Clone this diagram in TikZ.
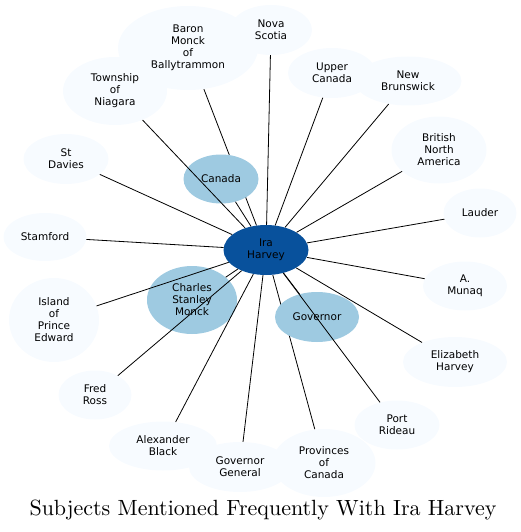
\documentclass[tikz,border=0pt]{standalone}
\usepackage{fontspec}
\newfontfamily\nodefont{DejaVu Sans}
\newfontfamily\titlefont{lmroman10-regular}[Extension=.otf]
\usetikzlibrary{shapes.geometric}
\definecolor{outerc}{HTML}{F7FBFF}
\definecolor{midc}{HTML}{9ECAE1}
\definecolor{centerc}{HTML}{08519C}
\pgfdeclarelayer{bg}
\pgfsetlayers{bg,main}
\tikzset{
  nd/.style={ellipse, inner sep=0pt, align=center, font=\nodefont\fontsize{10.5}{12}\selectfont, text=black},
  outer/.style={nd, fill=outerc},
  mid/.style={nd, fill=midc},
  ctr/.style={nd, fill=centerc},
  link/.style={draw=black, line width=0.8pt},
}
\begin{document}
\begin{tikzpicture}[x=1pt,y=-1pt]
\useasboundingbox (0,0) rectangle (521,532);
\node[outer, minimum width=140pt, minimum height=84pt] (baron) at (188,48) {Baron\\Monck\\of\\Ballytrammon};
\node[outer, minimum width=82pt, minimum height=50pt] (nova) at (271,30) {Nova\\Scotia};
\node[outer, minimum width=104pt, minimum height=68pt] (town) at (115,91) {Township\\of\\Niagara};
\node[outer, minimum width=88pt, minimum height=50pt] (upper) at (332,73) {Upper\\Canada};
\node[outer, minimum width=107pt, minimum height=49pt] (newb) at (408,81) {New\\Brunswick};
\node[outer, minimum width=95pt, minimum height=67pt] (bna) at (439,150) {British\\North\\America};
\node[outer, minimum width=73pt, minimum height=49pt] (lauder) at (480,213) {Lauder};
\node[outer, minimum width=85pt, minimum height=50pt] (stdav) at (66,159) {St\\Davies};
\node[outer, minimum width=83pt, minimum height=48pt] (stam) at (45,237) {Stamford};
\node[outer, minimum width=90pt, minimum height=84pt] (island) at (54,320) {Island\\of\\Prince\\Edward};
\node[outer, minimum width=73pt, minimum height=49pt] (fred) at (95,395) {Fred\\Ross};
\node[outer, minimum width=108pt, minimum height=49pt] (alex) at (163,446) {Alexander\\Black};
\node[outer, minimum width=103pt, minimum height=68pt] (prov) at (324,463) {Provinces\\of\\Canada};
\node[outer, minimum width=102pt, minimum height=50pt] (govgen) at (240,467) {Governor\\General};
\node[outer, minimum width=85pt, minimum height=49pt] (port) at (397,425) {Port\\Rideau};
\node[outer, minimum width=104pt, minimum height=50pt] (eliz) at (455,362) {Elizabeth\\Harvey};
\node[outer, minimum width=84pt, minimum height=49pt] (munaq) at (465,286) {A.\\Munaq};
\node[mid, minimum width=75pt, minimum height=49pt] (canada) at (221,179) {Canada};
\node[mid, minimum width=90pt, minimum height=68pt] (charles) at (192,300) {Charles\\Stanley\\Monck};
\node[mid, minimum width=84pt, minimum height=50pt] (gov) at (317,317) {Governor};
\node[ctr, minimum width=85pt, minimum height=50pt] (ira) at (266,250) {Ira\\Harvey};
\begin{pgfonlayer}{bg}
\draw[link] (ira) -- (baron);
\draw[link] (ira) -- (prov);
\end{pgfonlayer}
\draw[link] (ira) -- (nova);
\draw[link] (ira) -- (town);
\draw[link] (ira) -- (upper);
\draw[link] (ira) -- (newb);
\draw[link] (ira) -- (bna);
\draw[link] (ira) -- (lauder);
\draw[link] (ira) -- (stdav);
\draw[link] (ira) -- (stam);
\draw[link] (ira) -- (island);
\draw[link] (ira) -- (fred);
\draw[link] (ira) -- (alex);
\draw[link] (ira) -- (govgen);
\draw[link] (ira) -- (port);
\draw[link] (ira) -- (eliz);
\draw[link] (ira) -- (munaq);
\draw[link] (ira) -- (canada);
\draw[link] (ira) -- (charles);
\draw[link] (ira) -- (gov);
\node[font=\titlefont\fontsize{22}{26}\selectfont] (title) at (263,510) {Subjects Mentioned Frequently With Ira Harvey};
\end{tikzpicture}
\end{document}
